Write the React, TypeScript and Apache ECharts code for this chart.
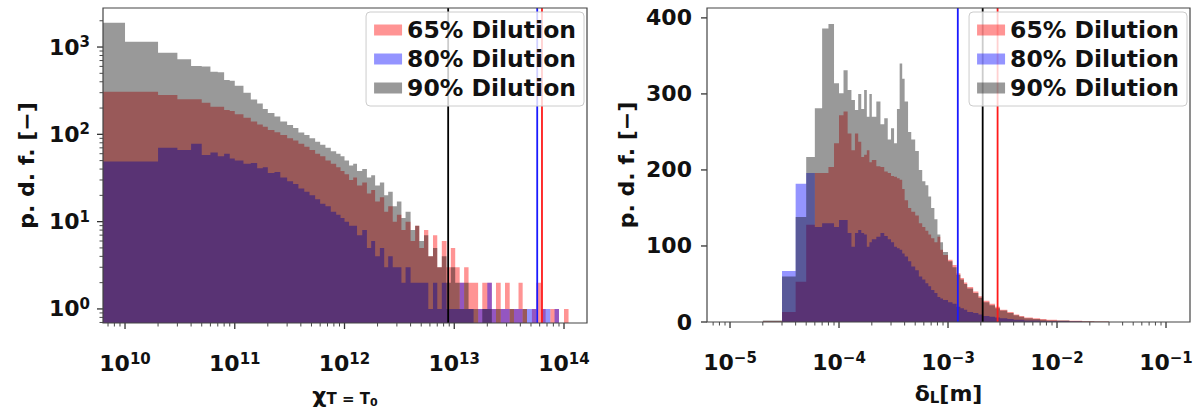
import React, { useEffect, useRef } from 'react';
import * as echarts from 'echarts';

const FONT = 'DejaVu Sans';
const TXT = '#111111';

const SERIES_NAMES = ['65% Dilution', '80% Dilution', '90% Dilution'];
const FILLS = ['rgba(255,0,0,0.42)', 'rgba(0,0,255,0.42)', 'rgba(0,0,0,0.40)'];
const LINE_COLORS = ['#ff1a1a', '#1a1aff', '#000000'];

// ---------- Left panel: chi_{T=T0} (log-log) ----------
const CHI_MIN = 6.3e9;
const CHI_MAX = 1.62e14;
const PDF_LOG_MIN = 0.69;
const PDF_LOG_MAX = 2800;
const CHI_TICKS = [1e10, 1e11, 1e12, 1e13, 1e14];
const PDF_LOG_TICKS = [1, 10, 100, 1000];

const CHI_EDGES = [
  6.3e9, 1e10, 2e10, 3e10, 4e10, 5e10, 6e10, 7e10, 8e10, 9e10, 1e11,
  1.2e11, 1.4e11, 1.6e11, 1.8e11, 2e11, 2.3e11, 2.6e11, 3e11, 3.4e11, 3.8e11, 4.3e11, 4.8e11, 5.4e11, 6e11, 6.7e11, 7.5e11, 8.4e11, 9.2e11, 1e12,
  1.1e12, 1.2e12, 1.3e12, 1.45e12, 1.6e12, 1.75e12, 1.9e12, 2.1e12, 2.3e12, 2.5e12, 2.75e12, 3e12, 3.3e12, 3.6e12, 4e12, 4.4e12, 4.8e12, 5.3e12, 5.8e12, 6.4e12, 7e12, 7.7e12, 8.5e12, 9.3e12,
  1.02e13, 1.12e13, 1.23e13, 1.35e13, 1.5e13, 1.65e13, 1.8e13, 2e13, 2.2e13, 2.4e13, 2.65e13, 2.9e13, 3.2e13, 3.5e13, 3.85e13, 4.2e13, 4.6e13, 5.1e13, 5.6e13, 6.2e13, 6.8e13, 7.5e13, 8.2e13, 9e13, 1e14, 1.1e14,
];
const CHI_65 = [
  308, 308, 283, 252, 252, 230, 207, 207, 190, 185,
  170, 155, 140, 130, 122, 112, 106, 98, 90, 85, 78, 72, 66, 60, 56, 50, 46, 42, 38,
  35, 30, 32, 26, 28, 21, 23, 17, 19, 13, 15, 10, 12, 8, 10, 6, 9, 5, 8, 4, 7, 3, 6, 3, 5,
  3, 2, 3, 2, 2, 1, 2, 2, 1, 2, 1, 2, 1, 1, 2, 1, 0, 1, 2, 1, 0, 1, 1, 0, 1,
];
const CHI_80 = [
  49, 49, 70, 66, 78, 58, 62, 56, 60, 53,
  50, 46, 47, 41, 42, 36, 37, 32, 29, 27, 24, 22, 20, 18, 16, 15, 13, 12, 11,
  10, 9, 9, 7, 8, 5, 6, 4, 5, 3, 4, 3, 3, 2, 3, 2, 2, 2, 2, 1, 2, 1, 2, 1, 1,
  1, 2, 1, 1, 0, 1, 1, 2, 1, 0, 1, 1, 0, 1, 1, 0, 1, 1, 0, 1, 1, 0, 1, 0, 0,
];
const CHI_90 = [
  1900, 1150, 860, 724, 607, 600, 522, 515, 420, 410,
  360, 300, 250, 225, 195, 175, 160, 140, 128, 118, 105, 98, 90, 82, 76, 70, 64, 60, 56,
  50, 44, 46, 38, 40, 32, 34, 26, 28, 20, 22, 15, 17, 11, 13, 8, 9, 6, 7, 4, 5, 3, 4, 2, 3,
  2, 1, 2, 1, 1, 0, 1, 1, 0, 1, 0, 0, 1, 0, 0, 1, 0, 0, 0, 0, 0, 0, 0, 0, 0,
];
const CHI_LINES = [6.3e13, 5.7e13, 8.8e12]; // 65 %, 80 %, 90 %

// ---------- Right panel: delta_L [m] (log x, linear y) ----------
const DELTA_MIN = 6.15e-6;
const DELTA_MAX = 0.166;
const PDF_LIN_MIN = 0;
const PDF_LIN_MAX = 413;
const DELTA_TICKS = [1e-5, 1e-4, 1e-3, 1e-2, 1e-1];
const PDF_LIN_TICKS = [0, 100, 200, 300, 400];

const DELTA_EDGES = [
  2e-5, 3e-5, 4e-5, 5e-5, 6e-5, 7e-5, 8e-5, 9e-5, 1e-4,
  1.1e-4, 1.2e-4, 1.3e-4, 1.4e-4, 1.5e-4, 1.6e-4, 1.7e-4, 1.8e-4, 1.9e-4,
  2.0e-4, 2.2e-4, 2.4e-4, 2.6e-4, 2.8e-4, 3.0e-4, 3.2e-4, 3.4e-4, 3.6e-4, 3.8e-4, 4.0e-4, 4.3e-4, 4.6e-4,
  5.0e-4, 5.4e-4, 5.8e-4, 6.2e-4, 6.6e-4, 7.0e-4, 7.5e-4, 8.0e-4, 8.5e-4, 9.0e-4,
  1.0e-3, 1.1e-3, 1.2e-3, 1.3e-3, 1.4e-3, 1.5e-3, 1.7e-3, 1.9e-3, 2.1e-3, 2.4e-3, 2.7e-3, 3.0e-3, 3.5e-3, 4.0e-3, 4.5e-3, 5.0e-3,
  6e-3, 7e-3, 8e-3, 1e-2, 1.3e-2, 1.7e-2, 2.2e-2, 3e-2,
];
const DELTA_65 = [
  1, 13, 53, 128, 196, 196, 204, 235, 272, 277,
  248, 226, 248, 237, 217, 220, 226, 210, 213, 205,
  204, 198, 196, 192, 191, 189, 187, 175, 160, 150,
  145, 140, 130, 125, 120, 115, 110, 105, 112, 95,
  88, 82, 75, 64, 58, 52, 46, 40, 34, 28,
  24, 20, 16, 13, 10, 8, 6, 5, 4, 3,
  2, 1.5, 1, 0.5,
];
const DELTA_80 = [
  0, 67, 182, 196, 125, 130, 130, 125, 134, 134,
  117, 99, 117, 121, 117, 115, 99, 105, 109, 112,
  117, 113, 109, 105, 99, 97, 95, 90, 86, 80,
  73, 68, 60, 56, 51, 47, 42, 38, 33, 31,
  29, 26, 24, 20, 18, 16, 13, 12, 10, 8,
  7, 6, 5, 4, 3, 3, 2, 2, 1, 1,
  1, 0.5, 0, 0,
];
const DELTA_90 = [
  2, 60, 138, 217, 281, 386, 392, 314, 301, 331,
  305, 292, 279, 300, 280, 305, 270, 300, 270, 290,
  260, 268, 240, 255, 235, 280, 340, 320, 290, 250,
  240, 225, 200, 185, 180, 165, 150, 135, 115, 105,
  92, 80, 72, 62, 56, 50, 44, 38, 32, 26,
  22, 18, 15, 12, 9, 7, 5, 4, 3, 2,
  2, 1, 1, 0.5,
];
const DELTA_LINES = [2.85e-3, 1.23e-3, 2.08e-3]; // 65 %, 80 %, 90 %

// ---------- helpers ----------
function logTicks(min: number, max: number) {
  const out: { v: number; major: boolean }[] = [];
  for (let d = Math.floor(Math.log10(min)); d <= Math.ceil(Math.log10(max)); d++) {
    for (let k = 1; k <= 9; k++) {
      const v = k * Math.pow(10, d);
      if (v >= min && v <= max) out.push({ v, major: k === 1 });
    }
  }
  return out;
}

function supText(e: number) {
  return e < 0 ? '\u2212' + Math.abs(e) : String(e);
}

function powLabel(v: number, ticks: number[]) {
  const hit = ticks.find((t) => Math.abs(Math.log10(v) - Math.log10(t)) < 1e-6);
  if (hit === undefined) return '';
  return `{b|10}{s|${supText(Math.round(Math.log10(hit)))}}`;
}

const RICH_POW = {
  b: { fontSize: 22, fontWeight: 'bold', fontFamily: FONT, color: TXT },
  s: { fontSize: 15, fontWeight: 'bold', fontFamily: FONT, color: TXT, padding: [0, 0, 10, 0] },
};

function histSeries(name: string, edges: number[], counts: number[], fill: string, idx: number, base: number) {
  const data = counts.map((c, i) => [edges[i], edges[i + 1], c]);
  return {
    type: 'custom',
    name,
    xAxisIndex: idx,
    yAxisIndex: idx,
    coordinateSystem: 'cartesian2d',
    clip: true,
    z: 2,
    itemStyle: { color: fill },
    encode: { x: [0, 1], y: 2 },
    data,
    renderItem: (params: any, api: any) => {
      if (params.dataIndex !== 0) return null;
      const pts: number[][] = [];
      pts.push(api.coord([edges[0], base]));
      for (let i = 0; i < counts.length; i++) {
        const v = counts[i] > 0 ? counts[i] : base;
        pts.push(api.coord([edges[i], v]));
        pts.push(api.coord([edges[i + 1], v]));
      }
      pts.push(api.coord([edges[edges.length - 1], base]));
      return { type: 'polygon', shape: { points: pts }, style: { fill, stroke: null } };
    },
  };
}

function lineSeries(lines: number[], idx: number, yRef: number) {
  return {
    type: 'custom',
    name: 'lines' + idx,
    xAxisIndex: idx,
    yAxisIndex: idx,
    coordinateSystem: 'cartesian2d',
    clip: false,
    z: 3,
    silent: true,
    data: lines.map((v, i) => [v, yRef, i]),
    renderItem: (params: any, api: any) => {
      const cs = params.coordSys;
      const px = api.coord([api.value(0), yRef])[0];
      return {
        type: 'line',
        shape: { x1: px, y1: cs.y, x2: px, y2: cs.y + cs.height },
        style: { stroke: LINE_COLORS[api.value(2)], lineWidth: 1.8 },
      };
    },
  };
}

function frameSeries(idx: number, xRef: number, yRef: number, xTicks: { v: number; major: boolean }[], yTicks: { v: number; major: boolean }[]) {
  return {
    type: 'custom',
    name: 'frame' + idx,
    xAxisIndex: idx,
    yAxisIndex: idx,
    coordinateSystem: 'cartesian2d',
    clip: false,
    z: 5,
    silent: true,
    data: [[xRef, yRef]],
    renderItem: (params: any, api: any) => {
      const cs = params.coordSys;
      const bottom = cs.y + cs.height;
      const children: any[] = [];
      for (const t of xTicks) {
        const px = api.coord([t.v, yRef])[0];
        if (px < cs.x - 0.5 || px > cs.x + cs.width + 0.5) continue;
        children.push({
          type: 'line',
          shape: { x1: px, y1: bottom, x2: px, y2: bottom + (t.major ? 6 : 3.5) },
          style: { stroke: '#333', lineWidth: t.major ? 1.3 : 0.9 },
        });
      }
      for (const t of yTicks) {
        const py = api.coord([xRef, t.v])[1];
        if (py < cs.y - 0.5 || py > bottom + 0.5) continue;
        children.push({
          type: 'line',
          shape: { x1: cs.x, y1: py, x2: cs.x - (t.major ? 6 : 3.5), y2: py },
          style: { stroke: '#333', lineWidth: t.major ? 1.3 : 0.9 },
        });
      }
      children.push({
        type: 'rect',
        shape: { x: cs.x, y: cs.y, width: cs.width, height: cs.height },
        style: { fill: null, stroke: '#444', lineWidth: 1.2 },
      });
      return { type: 'group', children };
    },
  };
}

const LEGEND_BASE = {
  data: SERIES_NAMES,
  orient: 'vertical',
  top: 12,
  icon: 'rect',
  itemWidth: 28,
  itemHeight: 11,
  itemGap: 5,
  padding: [6, 8, 6, 8],
  backgroundColor: 'rgba(255,255,255,0.8)',
  borderColor: '#cccccc',
  borderWidth: 1,
  borderRadius: 4,
  selectedMode: false,
  textStyle: { fontSize: 23.5, fontWeight: 'bold', fontFamily: FONT, color: TXT },
};

const NAME_STYLE = { fontSize: 22, fontWeight: 'bold', fontFamily: FONT, color: TXT };

export default function App() {
  const ref = useRef<HTMLDivElement>(null);

  useEffect(() => {
    if (!ref.current) return;
    const chart = echarts.init(ref.current, undefined, { renderer: 'svg' });

    const chiXTicks = logTicks(CHI_MIN, CHI_MAX);
    const pdfYTicks = logTicks(PDF_LOG_MIN, PDF_LOG_MAX);
    const deltaXTicks = logTicks(DELTA_MIN, DELTA_MAX);
    const linYTicks = PDF_LIN_TICKS.map((v) => ({ v, major: true }));

    const option: any = {
      animation: false,
      backgroundColor: '#ffffff',
      grid: [
        { left: 103, top: 8, width: 484, height: 315, outerBoundsMode: 'none', containLabel: false },
        { left: 707, top: 8, width: 483, height: 314, outerBoundsMode: 'none', containLabel: false },
      ],
      legend: [
        { ...LEGEND_BASE, right: 615 },
        { ...LEGEND_BASE, right: 12 },
      ],
      xAxis: [
        {
          type: 'log',
          logBase: 10,
          gridIndex: 0,
          min: CHI_MIN,
          max: CHI_MAX,
          axisLine: { show: false },
          axisTick: { show: false },
          minorTick: { show: false },
          splitLine: { show: false },
          axisLabel: { interval: 0, margin: 28, formatter: (v: number) => powLabel(v, CHI_TICKS), rich: RICH_POW },
          name: '{a|\u03c7}{b|T = T}{c|0}',
          nameLocation: 'middle',
          nameGap: 60,
          nameTextStyle: {
            rich: {
              a: { ...NAME_STYLE },
              b: { fontSize: 15, fontWeight: 'bold', fontFamily: FONT, color: TXT, padding: [6, 0, 0, 0] },
              c: { fontSize: 11, fontWeight: 'bold', fontFamily: FONT, color: TXT, padding: [14, 0, 0, 0] },
            },
          },
        },
        {
          type: 'log',
          logBase: 10,
          gridIndex: 1,
          min: DELTA_MIN,
          max: DELTA_MAX,
          axisLine: { show: false },
          axisTick: { show: false },
          minorTick: { show: false },
          splitLine: { show: false },
          axisLabel: { interval: 0, margin: 28, formatter: (v: number) => powLabel(v, DELTA_TICKS), rich: RICH_POW },
          name: '{a|\u03b4}{b|L}{a|[m]}',
          nameLocation: 'middle',
          nameGap: 60,
          nameTextStyle: {
            rich: {
              a: { ...NAME_STYLE },
              b: { fontSize: 15, fontWeight: 'bold', fontFamily: FONT, color: TXT, padding: [8, 0, 0, 0] },
            },
          },
        },
      ],
      yAxis: [
        {
          type: 'log',
          logBase: 10,
          gridIndex: 0,
          min: PDF_LOG_MIN,
          max: PDF_LOG_MAX,
          axisLine: { show: false },
          axisTick: { show: false },
          minorTick: { show: false },
          splitLine: { show: false },
          axisLabel: { interval: 0, margin: 13, formatter: (v: number) => powLabel(v, PDF_LOG_TICKS), rich: RICH_POW },
          name: 'p. d. f. [\u2212]',
          nameLocation: 'middle',
          nameRotate: 90,
          nameGap: 66,
          nameTextStyle: { ...NAME_STYLE },
        },
        {
          type: 'value',
          gridIndex: 1,
          min: PDF_LIN_MIN,
          max: PDF_LIN_MAX,
          interval: 100,
          axisLine: { show: false },
          axisTick: { show: false },
          splitLine: { show: false },
          axisLabel: {
            margin: 15,
            fontSize: 22,
            fontWeight: 'bold',
            fontFamily: FONT,
            color: TXT,
            formatter: (v: number) => (PDF_LIN_TICKS.includes(v) ? String(v) : ''),
          },
          name: 'p. d. f. [\u2212]',
          nameLocation: 'middle',
          nameRotate: 90,
          nameGap: 70,
          nameTextStyle: { ...NAME_STYLE },
        },
      ],
      series: [
        histSeries(SERIES_NAMES[0], CHI_EDGES, CHI_65, FILLS[0], 0, PDF_LOG_MIN),
        histSeries(SERIES_NAMES[1], CHI_EDGES, CHI_80, FILLS[1], 0, PDF_LOG_MIN),
        histSeries(SERIES_NAMES[2], CHI_EDGES, CHI_90, FILLS[2], 0, PDF_LOG_MIN),
        lineSeries(CHI_LINES, 0, 10),
        frameSeries(0, 1e11, 10, chiXTicks, pdfYTicks),
        histSeries(SERIES_NAMES[0], DELTA_EDGES, DELTA_65, FILLS[0], 1, PDF_LIN_MIN),
        histSeries(SERIES_NAMES[1], DELTA_EDGES, DELTA_80, FILLS[1], 1, PDF_LIN_MIN),
        histSeries(SERIES_NAMES[2], DELTA_EDGES, DELTA_90, FILLS[2], 1, PDF_LIN_MIN),
        lineSeries(DELTA_LINES, 1, 100),
        frameSeries(1, 1e-3, 100, deltaXTicks, linYTicks),
      ],
    };

    chart.setOption(option);
    return () => chart.dispose();
  }, []);

  return (
    <div
      ref={ref}
      style={{ position: 'fixed', left: 0, top: 0, width: 1199, height: 413, background: '#ffffff' }}
    />
  );
}
